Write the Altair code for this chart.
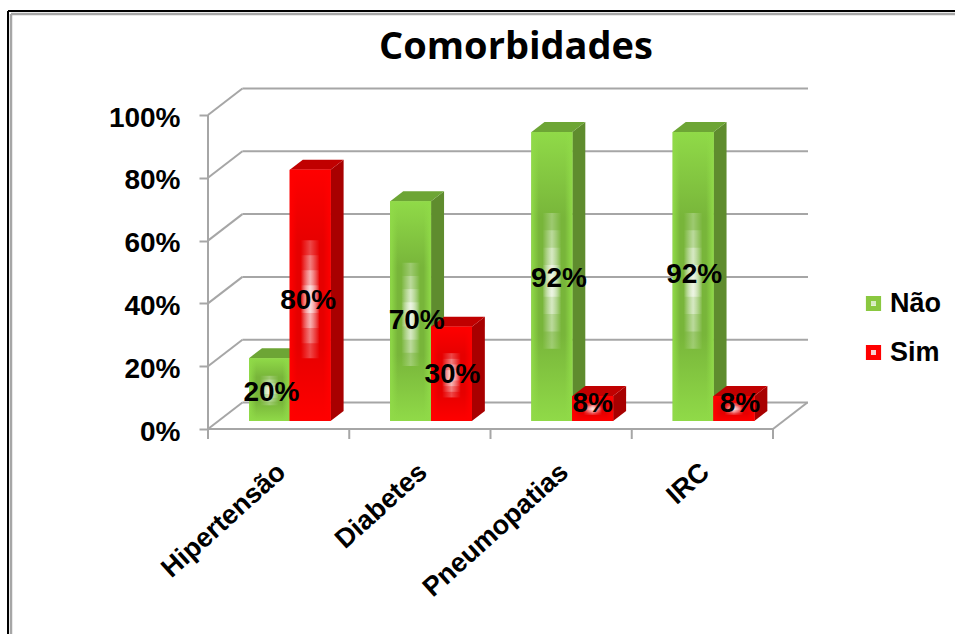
import altair as alt
import pandas as pd

# Values
categories = ["Hipertensão", "Diabetes", "Pneumopatias", "IRC"]
nao = [20, 70, 92, 92]
sim = [80, 30, 8, 8]
series_names = ["Não", "Sim"]
y_ticks = [0, 20, 40, 60, 80, 100]

# Scale geometry: 141.25 px per category, 3.14 px per percentage point
PX_X = 141.25
PX_Y = 3.14
WIDTH = 600
HEIGHT = 340
X_MAX = WIDTH / PX_X
Y_MAX = HEIGHT / PX_Y
# Depth of the box walls and of the bars, in data units
WALL_DX = 34.4 / PX_X
WALL_DY = 26.5 / PX_Y
BAR_DX = 13 / PX_X
BAR_DY = 10 / PX_Y
BAR_LEFT = 41 / PX_X
BAR_W = 40.8 / PX_X
BASE_SHIFT = -8  # bars stand inside the floor, a few px above the front edge

GREEN = {"side": "#5F8C2E", "top": "#6DA535", "hi": "#90DA48", "lo": "#78B53A", "key": "#8AC840"}
RED = {"side": "#A80000", "top": "#C00000", "hi": "#FF0000", "lo": "#E60000", "key": "#FF0000"}
GRID = "#A6A6A6"
FONT = "Liberation Sans"

x_scale = alt.Scale(domain=[0, X_MAX], nice=False, zero=False)
y_scale = alt.Scale(domain=[0, Y_MAX], nice=False, zero=False)
X = lambda f="x": alt.X(f"{f}:Q", scale=x_scale, axis=None)
Y = lambda f="y": alt.Y(f"{f}:Q", scale=y_scale, axis=None, stack=False)

# Front-face table
rows = []
for i, cat in enumerate(categories):
    for j, (name, val) in enumerate(zip(series_names, (nao[i], sim[i]))):
        x0 = i + BAR_LEFT + j * BAR_W
        rows.append(dict(cat=cat, serie=name, v=val, x0=x0, x1=x0 + BAR_W, zero=0))
bars = pd.DataFrame(rows)


def face_rows(sub):
    """Corner points of the side and top parallelograms of each bar."""
    side, top = [], []
    for k, r in enumerate(sub.itertuples()):
        side += [
            dict(id=k, x=r.x1, lo=0, hi=r.v),
            dict(id=k, x=r.x1 + BAR_DX, lo=BAR_DY, hi=r.v + BAR_DY),
        ]
        top += [
            dict(id=k, x=r.x0, lo=r.v, hi=r.v),
            dict(id=k, x=r.x0 + BAR_DX, lo=r.v, hi=r.v + BAR_DY),
            dict(id=k, x=r.x1, lo=r.v, hi=r.v + BAR_DY),
            dict(id=k, x=r.x1 + BAR_DX, lo=r.v + BAR_DY, hi=r.v + BAR_DY),
        ]
    return pd.DataFrame(side), pd.DataFrame(top)


def face_layer(df, color):
    return alt.Chart(df).mark_area(
        color=color, yOffset=BASE_SHIFT, y2Offset=BASE_SHIFT, opacity=1
    ).encode(x=X(), y=Y("lo"), y2="hi:Q", detail="id:N")


def vertical_shade(p):
    return alt.LinearGradient(
        gradient="linear", x1=0, x2=0, y1=0, y2=1,
        stops=[
            alt.GradientStop(offset=0, color=p["hi"]),
            alt.GradientStop(offset=0.3, color=p["lo"]),
            alt.GradientStop(offset=0.7, color=p["lo"]),
            alt.GradientStop(offset=1, color=p["hi"]),
        ],
    )


def edge_shade(p):
    """Lighter left and right rims on a bar face."""
    clear = p["hi"] + "00"
    return alt.LinearGradient(
        gradient="linear", x1=0, x2=1, y1=0, y2=0,
        stops=[
            alt.GradientStop(offset=0, color=p["hi"]),
            alt.GradientStop(offset=0.18, color=clear),
            alt.GradientStop(offset=0.82, color=clear),
            alt.GradientStop(offset=1, color=p["hi"]),
        ],
    )


def glow_layers(sub):
    """Stepped white glare in the middle of a bar face."""
    out = []
    for lo, hi, alpha in [(0.25, 0.72, 0.28), (0.31, 0.66, 0.3), (0.37, 0.6, 0.4), (0.43, 0.54, 0.55)]:
        d = sub.assign(
            gx0=sub.x0 + BAR_W * 0.27, gx1=sub.x0 + BAR_W * 0.73,
            gy0=sub.v * lo, gy1=sub.v * hi,
        )
        fill = alt.LinearGradient(
            gradient="linear", x1=0, x2=1, y1=0, y2=0,
            stops=[
                alt.GradientStop(offset=0, color="rgba(255,255,255,0)"),
                alt.GradientStop(offset=0.5, color=f"rgba(255,255,255,{alpha})"),
                alt.GradientStop(offset=1, color="rgba(255,255,255,0)"),
            ],
        )
        out.append(
            alt.Chart(d).mark_rect(
                fill=fill, yOffset=BASE_SHIFT, y2Offset=BASE_SHIFT
            ).encode(x=X("gx0"), x2="gx1:Q", y=Y("gy0"), y2="gy1:Q")
        )
    return out


# Legend key: a square with a square hole, so the pale centre drawn below shows through
KEY_SHAPE = "M-1,-1H1V1H-1Z M-0.33,-0.33V0.33H0.33V-0.33Z"


def series_layers(name, palette):
    sub = bars[bars.serie == name]
    side, top = face_rows(sub)
    base = alt.Chart(sub).mark_rect(yOffset=BASE_SHIFT, y2Offset=BASE_SHIFT).encode(
        x=X("x0"), x2="x1:Q", y=Y("v"), y2="zero:Q",
        color=alt.Color(
            "serie:N",
            scale=alt.Scale(domain=series_names, range=[GREEN["key"], RED["key"]]),
            legend=alt.Legend(
                title=None, orient="none", legendX=652, legendY=201,
                symbolType=KEY_SHAPE, symbolSize=230, symbolStrokeWidth=0,
                labelFont=FONT, labelFontWeight="bold", labelFontSize=27,
                labelColor="black", labelOffset=3, rowPadding=21,
            ),
        ),
    )
    shaded = alt.Chart(sub).mark_rect(
        fill=vertical_shade(palette), yOffset=BASE_SHIFT, y2Offset=BASE_SHIFT
    ).encode(x=X("x0"), x2="x1:Q", y=Y("v"), y2="zero:Q")
    rims = alt.Chart(sub).mark_rect(
        fill=edge_shade(palette), yOffset=BASE_SHIFT, y2Offset=BASE_SHIFT
    ).encode(x=X("x0"), x2="x1:Q", y=Y("v"), y2="zero:Q")
    return [face_layer(side, palette["side"]), face_layer(top, palette["top"]), base, shaded, rims] + glow_layers(sub)


# Box: back wall lines, left wall diagonals, floor edges, axis line
back = pd.DataFrame([dict(y=v + WALL_DY, x=WALL_DX, x2=X_MAX) for v in y_ticks])
diag = pd.DataFrame([dict(x=0, x2=WALL_DX, y=v, y2=v + WALL_DY) for v in y_ticks])
floor_edge = pd.DataFrame([dict(x=0, x2=4, y=0, y2=0), dict(x=4, x2=4 + WALL_DX, y=0, y2=WALL_DY)])
axis_line = pd.DataFrame([dict(x=0, y=0, y2=100)])
x_ticks = pd.DataFrame({"x": [0, 1, 2, 3, 4]})

rule = dict(color=GRID, strokeWidth=2)
axes = alt.Chart(back).mark_rule(**rule).encode(
    x=alt.X(
        "x:Q", scale=x_scale,
        axis=alt.Axis(
            values=[i + 0.52 for i in range(len(categories))],
            labelExpr="['" + "','".join(categories) + "'][floor(datum.value)]",
            title=None, domain=False, ticks=False, grid=False,
            labelAngle=-42, labelAlign="right", labelBaseline="middle",
            labelFont=FONT, labelFontWeight="bold", labelFontSize=27,
            labelColor="black", labelPadding=39, labelOverlap=False, labelLimit=400,
        ),
    ),
    x2="x2:Q",
    y=alt.Y(
        "y:Q", scale=y_scale,
        axis=alt.Axis(
            values=y_ticks, labelExpr="datum.value + '%'",
            title=None, domain=False, grid=False,
            tickColor=GRID, tickWidth=2, tickSize=9,
            labelFont=FONT, labelFontWeight="bold", labelFontSize=28,
            labelColor="black", labelPadding=19, labelOffset=3,
        ),
    ),
)
box = [
    axes,
    alt.Chart(diag).mark_rule(**rule).encode(x=X(), x2="x2:Q", y=Y(), y2="y2:Q"),
    alt.Chart(floor_edge).mark_rule(**rule).encode(x=X(), x2="x2:Q", y=Y(), y2="y2:Q"),
    alt.Chart(axis_line).mark_rule(**rule).encode(x=X(), y=Y(), y2="y2:Q"),
    alt.Chart(x_ticks).mark_rule(**rule).encode(
        x=X(), y=alt.value(HEIGHT), y2=alt.value(HEIGHT + 10)
    ),
]

# Value labels: centred on the bar face, with small per-label pixel shifts
label_shift_x = [2, -2, 6, 1, 7, 0, 1, 6]
label_shift_y = [-3, -6, -10, -1, -2, 4, 2, 4]
labels = bars.copy()
labels["tx"] = (labels.x0 + labels.x1) / 2 + pd.Series(label_shift_x, index=labels.index) / PX_X
labels["ty"] = labels.v / 2 + (pd.Series(label_shift_y, index=labels.index) - BASE_SHIFT) / PX_Y
labels["txt"] = labels.v.astype(str) + "%"
label_layer = alt.Chart(labels).mark_text(
    font=FONT, fontWeight="bold", fontSize=28, color="black", baseline="middle"
).encode(x=X("tx"), y=Y("ty"), text="txt:N")

# Pale centres seen through the legend keys
legend_glints = [
    alt.Chart(pd.DataFrame({"k": [name]})).mark_point(
        shape="square", filled=True, size=40, color=tint, opacity=1
    ).encode(x=alt.value(665.5), y=alt.value(py))
    for name, py, tint in zip(series_names, [213.5, 263.5], ["#D6EBC0", "#F8D0D0"])
]

# Double picture frame running off the right and bottom edges
def frame(color, px, py, w):
    return [
        alt.Chart(pd.DataFrame({"k": [0]})).mark_rule(color=color, strokeWidth=w).encode(
            x=alt.value(px), y=alt.value(py), y2=alt.value(560)
        ),
        alt.Chart(pd.DataFrame({"k": [0]})).mark_rule(color=color, strokeWidth=w).encode(
            x=alt.value(px), x2=alt.value(760), y=alt.value(py)
        ),
    ]


frames = frame("#000000", -200, -78, 2) + frame("#A6A6A6", -197, -75, 2.5)

layers = (
    frames + legend_glints + box
    + series_layers("Não", GREEN)
    + series_layers("Sim", RED)
    + [label_layer]
)

chart = alt.layer(*layers).resolve_axis(x="independent", y="independent").properties(
    width=WIDTH,
    height=HEIGHT,
    padding={"left": 208, "top": 89, "right": 147, "bottom": 205},
    autosize=alt.AutoSizeParams(type="none"),
    background="white",
    title=alt.TitleParams(
        "Comorbidades", font="Open Sans", fontWeight="bold", fontSize=38,
        color="black", anchor="middle", dx=8, offset=-57,
    ),
).configure_view(strokeWidth=0)

chart.save("out.html", embed_options={"renderer": "svg", "actions": False})
